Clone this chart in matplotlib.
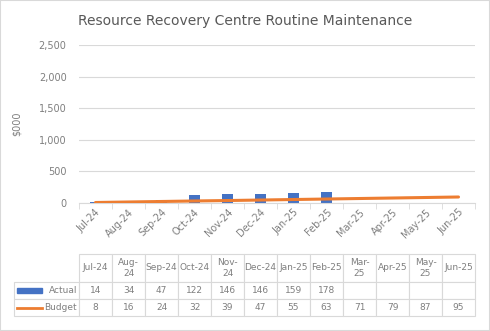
import matplotlib.pyplot as plt
from matplotlib.lines import Line2D
from matplotlib.patches import Rectangle

months = ["Jul-24", "Aug-24", "Sep-24", "Oct-24", "Nov-24", "Dec-24",
          "Jan-25", "Feb-25", "Mar-25", "Apr-25", "May-25", "Jun-25"]
header = ["Jul-24", "Aug-\n24", "Sep-24", "Oct-24", "Nov-\n24", "Dec-24",
          "Jan-25", "Feb-25", "Mar-\n25", "Apr-25", "May-\n25", "Jun-25"]
actual = [14, 34, 47, 122, 146, 146, 159, 178]
budget = [8, 16, 24, 32, 39, 47, 55, 63, 71, 79, 87, 95]

blue = "#4472C4"
orange = "#ED7D31"
grey = "#595959"

W, H = 490, 331
fig = plt.figure(figsize=(W / 100, H / 100), dpi=100)
fig.patches.append(Rectangle((0, 0), 1, 1, transform=fig.transFigure,
                             fill=False, edgecolor="#D9D9D9", lw=1.5))

ax = fig.add_axes([79 / W, (H - 203) / H, (475 - 79) / W, (203 - 45) / H])
x = list(range(len(months)))
ax.bar(x[:len(actual)], actual, width=0.34, color=blue, zorder=2)
ax.plot(x, budget, color=orange, lw=2.2, solid_capstyle="round", zorder=3)
ax.set_xlim(-0.5, len(months) - 0.5)
ax.set_ylim(0, 2500)
ax.set_yticks(range(0, 2501, 500))
ax.set_yticklabels([f"{v:,}" for v in range(0, 2501, 500)])
ax.set_xticks(x)
ax.set_xticklabels(months, rotation=45, ha="right", rotation_mode="anchor")
ax.grid(axis="y", color="#D9D9D9", lw=0.8, zorder=0)
for s in ["top", "right", "left"]:
    ax.spines[s].set_visible(False)
ax.spines["bottom"].set_color("#D9D9D9")
ax.tick_params(axis="y", length=0, labelsize=7, labelcolor="#7F7F7F", pad=9)
ax.tick_params(axis="x", labelsize=7, labelcolor="#7F7F7F", pad=3)
ax.set_xticks([i - 0.5 for i in range(len(months) + 1)], minor=True)
ax.tick_params(axis="x", which="minor", length=4, color="#D9D9D9")
ax.tick_params(axis="x", which="major", length=0)
ax.set_ylabel("$000", color="#7F7F7F", fontsize=7, labelpad=12)
fig.text(245 / W, 1 - 21 / H, "Resource Recovery Centre Routine Maintenance",
         ha="center", va="center", fontsize=10, color=grey)

# data table
tax = fig.add_axes([14 / W, (H - 316) / H, (475 - 14) / W, (316 - 254) / H])
tax.axis("off")
rows = [["Actual"] + [str(v) for v in actual] + [""] * (len(months) - len(actual)),
        ["Budget"] + [str(v) for v in budget]]
cells = [[""] + header] + rows
colw = [65 / 461] + [33 / 461] * len(months)
tbl = tax.table(cellText=cells, colWidths=colw, bbox=[0, 0, 1, 1],
                cellLoc="center")
tbl.auto_set_font_size(False)
hh = [28 / 62, 17 / 62, 17 / 62]
for (r, c), cell in tbl.get_celld().items():
    cell.set_edgecolor("#D9D9D9")
    cell.set_linewidth(0.8)
    cell.set_height(hh[r])
    cell.get_text().set_color("#7F7F7F")
    cell.get_text().set_fontsize(6.5)
    if r == 0 and c == 0:
        cell.visible_edges = ""
    if c == 0 and r > 0:
        cell.get_text().set_ha("right")
        cell.PAD = 0.03

# legend keys in the row-label cells
fig.canvas.draw()
inv = fig.transFigure.inverted()
for r, col in [(1, blue), (2, orange)]:
    bb = tbl[r, 0].get_window_extent(fig.canvas.get_renderer()).transformed(inv)
    x0 = bb.x0 + 3 / W
    x1 = bb.x0 + 28 / W
    ym = (bb.y0 + bb.y1) / 2
    if r == 1:
        fig.patches.append(Rectangle((x0, ym - 2.5 / H), x1 - x0, 5 / H,
                                     transform=fig.transFigure, color=col))
    else:
        fig.lines.append(Line2D([x0, x1], [ym, ym], transform=fig.transFigure,
                                color=col, lw=2))

fig.savefig("out.png", dpi=100)
